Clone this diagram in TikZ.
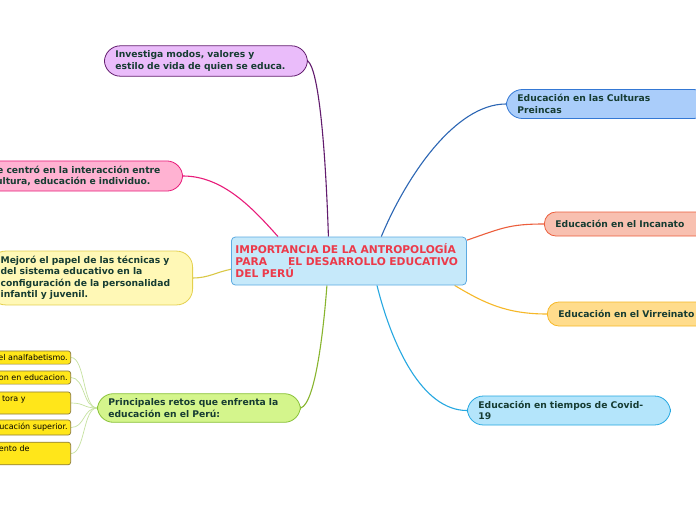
\documentclass[tikz,border=0pt]{standalone}
\usepackage{fontspec}
\setmainfont{DejaVu Sans}
\usetikzlibrary{backgrounds}
\hyphenpenalty=10000
\exhyphenpenalty=10000
\definecolor{txtdark}{RGB}{22,60,50}
\definecolor{titlered}{RGB}{236,58,74}
\definecolor{corefill}{RGB}{198,233,250}
\definecolor{coredraw}{RGB}{92,170,225}
\definecolor{lilacfill}{RGB}{234,188,250}
\definecolor{lilacdraw}{RGB}{98,28,110}
\definecolor{pinkfill}{RGB}{255,178,210}
\definecolor{pinkdraw}{RGB}{232,28,122}
\definecolor{creamfill}{RGB}{255,248,182}
\definecolor{creamdraw}{RGB}{228,208,78}
\definecolor{limefill}{RGB}{212,245,140}
\definecolor{limedraw}{RGB}{138,194,58}
\definecolor{skyfill}{RGB}{170,205,250}
\definecolor{skydraw}{RGB}{52,120,212}
\definecolor{salmonfill}{RGB}{248,192,176}
\definecolor{salmondraw}{RGB}{236,94,60}
\definecolor{goldfill}{RGB}{255,220,140}
\definecolor{golddraw}{RGB}{246,184,40}
\definecolor{aquafill}{RGB}{180,229,251}
\definecolor{aquadraw}{RGB}{38,168,225}
\definecolor{subfill}{RGB}{255,230,26}
\definecolor{subdraw}{RGB}{140,124,60}
\definecolor{sublink}{RGB}{198,226,160}
\tikzset{
  topicbox/.style={rectangle,draw,line width=0.8pt,align=left,text width=181pt,
    inner xsep=11pt,inner ysep=5pt,minimum height=24pt,text=txtdark,
    font=\fontsize{9.2}{11.5}\selectfont\bfseries},
  pillone/.style={topicbox,rounded corners=11.5pt},
  pilltwo/.style={topicbox,rounded corners=16pt},
  corebox/.style={rectangle,rounded corners=4pt,draw=coredraw,fill=corefill,line width=0.8pt,
    align=left,text width=227pt,inner xsep=4pt,minimum height=48pt,text=titlered,
    font=\fontsize{10.7}{12}\selectfont\bfseries},
  subbox/.style={rectangle,rounded corners=2.5pt,draw=subdraw,fill=subfill,line width=0.7pt,
    align=right,text width=120pt,inner xsep=3pt,inner ysep=3.5pt,anchor=east,
    font=\fontsize{8}{9.5}\selectfont},
  link/.style={line width=1.1pt},
  sublinkarr/.style={line width=0.7pt,color=sublink}
}

\begin{document}
\begin{tikzpicture}[x=1pt,y=-1pt]

  \useasboundingbox (0,0) rectangle (696,520);

  %% Central topic
  \node[corebox,anchor=west] (imp) at (231,261)
    {IMPORTANCIA DE LA ANTROPOLOGÍA\\PARA\hspace{21pt}EL DESARROLLO EDUCATIVO\\DEL PERÚ};

  %% Left branches
  \node[pilltwo,draw=lilacdraw,fill=lilacfill,anchor=west] (modos) at (104,61)
    {Investiga modos, valores y\\estilo de vida de quien se educa.};
  \node[pilltwo,draw=pinkdraw,fill=pinkfill,anchor=east] (centro) at (183,176)
    {Se centró en la interacción entre\\cultura, educación e individuo.};
  \node[pilltwo,draw=creamdraw,fill=creamfill,anchor=east] (mejoro) at (193,278)
    {Mejoró el papel de las técnicas y\\del sistema educativo en la\\configuración de la personalidad\\infantil y juvenil.};
  \node[pilltwo,draw=limedraw,fill=limefill,anchor=west] (retos) at (97,408)
    {Principales retos que enfrenta la\\educación en el Perú:};

  %% Sub-topics of retos
  \node[subbox] (reto1) at (71,357.5) {el analfabetismo.};
  \node[subbox] (reto2) at (71,377.5) {on en educacion.};
  \node[subbox] (reto3) at (71,403) {tora y\hspace*{42pt}\mbox{}\\\mbox{}};
  \node[subbox] (reto4) at (71,427.5) {ucación superior.};
  \node[subbox] (reto5) at (71,453.5) {ento de\hspace*{38pt}\mbox{}\\\mbox{}};

  %% Right branches
  \node[pilltwo,draw=skydraw,fill=skyfill,anchor=west] (preincas) at (506,104)
    {Educación en las Culturas\\Preincas};
  \node[pillone,draw=salmondraw,fill=salmonfill,anchor=west] (incanato) at (544,224)
    {Educación en el Incanato};
  \node[pillone,draw=golddraw,fill=goldfill,anchor=west] (virreinato) at (547,314)
    {Educación en el Virreinato};
  \node[pilltwo,draw=aquadraw,fill=aquafill,anchor=west] (covid) at (467,410.5)
    {Educación en tiempos de Covid-\\19};

  %% ── CONNECTORS ──────────────────────────────────────────
  \begin{pgfonlayer}{background}
    \fill[white] (0,0) rectangle (696,520);

    %% left side
    \draw[link,lilacdraw] (modos.east) .. controls +(11,9) and +(-3,-90) .. (imp.130.5);
    \draw[link,pinkdraw] (centro.east) .. controls +(40,0) and +(-25,-28) .. (imp.161.2);
    \draw[link,creamdraw!90!olive] (mejoro.east) .. controls +(15,0) and +(-15,3) .. (imp.184.4);
    \draw[link,limedraw!80!olive] (retos.east) .. controls +(15,-5) and +(-3,40) .. (imp.228.1);

    %% retos -> sub-topics
    \foreach \r in {reto1,reto2,reto3,reto4,reto5}
      \draw[sublinkarr] (\r.east) .. controls +(14,0) and +(-14,0) .. (retos.west);

    %% right side
    \draw[link,skydraw!85!black] (imp.37.3) .. controls +(25,-60) and +(-51,0) .. (preincas.west);
    \draw[link,salmondraw] (imp.10.1) .. controls +(35,-12) and +(-35,0) .. (incanato.west);
    \draw[link,golddraw] (imp.347.3) .. controls +(30,18) and +(-40,0) .. (virreinato.west);
    \draw[link,aquadraw] (imp.319.9) .. controls +(15,60) and +(-45,0) .. (covid.west);
  \end{pgfonlayer}

\end{tikzpicture}
\end{document}
